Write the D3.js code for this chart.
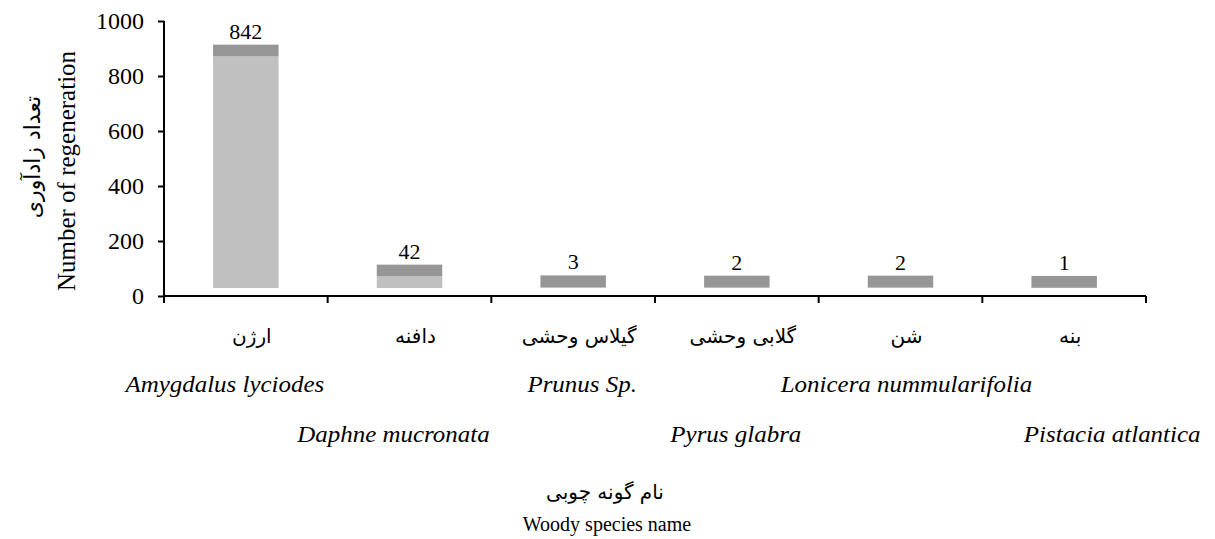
<!DOCTYPE html>
<html>
<head>
<meta charset="utf-8">
<script src="https://cdn.jsdelivr.net/npm/d3@7"></script>
<style>
  body { margin: 0; background: #fff; }
  text { font-family: "Liberation Serif", "Times New Roman", serif; fill: #000; }
  .fa { font-family: "DejaVu Sans", sans-serif; }
</style>
</head>
<body>
<div id="chart"></div>
<script>
// Datos del grafico
var nombresFa = ["ارژن", "دافنه", "گیلاس وحشی", "گلابی وحشی", "شن", "بنه"];
var nombresLat = ["Amygdalus lyciodes", "Daphne mucronata", "Prunus Sp.", "Pyrus glabra", "Lonicera nummularifolia", "Pistacia atlantica"];
var valores = [842, 42, 3, 2, 2, 1];
var ticksY = [0, 200, 400, 600, 800, 1000];

// Ajustes de posicion de las etiquetas latinas (desplazamiento horizontal)
var desplazaLat = [-21, -16, 9, -1, 6, 48];

var width = 1215, height = 539;
var margin = {top: 21, left: 164, right: 69, bottom: 243};

var svg = d3.select("#chart").append("svg")
    .attr("width", width)
    .attr("height", height);

var x = d3.scaleBand()
    .domain(d3.range(valores.length))
    .range([margin.left, width - margin.right])
    .paddingInner(0.6)
    .paddingOuter(0.3);

var y = d3.scaleLinear()
    .domain([0, 1000])
    .range([height - margin.bottom, margin.top]);

// base del suelo 3D y grosor de la tapa
var base = 29, tapa = 43;

// Barras (parte clara = valor)
svg.selectAll(".clara")
    .data(valores)
    .enter().append("rect")
    .attr("class", "clara")
    .attr("x", function(d, i) { return x(i); })
    .attr("width", x.bandwidth())
    .attr("y", function(d) { return y(base + d); })
    .attr("height", function(d) { return y(base) - y(base + d); })
    .attr("fill", "#c0c0c0");

// Tapa oscura
svg.selectAll(".tapa")
    .data(valores)
    .enter().append("rect")
    .attr("class", "tapa")
    .attr("x", function(d, i) { return x(i); })
    .attr("width", x.bandwidth())
    .attr("y", function(d) { return y(base + d + tapa); })
    .attr("height", function(d) { return y(base + d) - y(base + d + tapa); })
    .attr("fill", "#969696");

// Etiquetas de valor
svg.selectAll(".valor")
    .data(valores)
    .enter().append("text")
    .attr("class", "valor")
    .attr("x", function(d, i) { return x(i) + x.bandwidth() / 2; })
    .attr("y", function(d) { return y(base + d + tapa) - 6; })
    .attr("text-anchor", "middle")
    .style("font-size", "22px")
    .text(function(d) { return d; });

// Eje Y
var ejeY = svg.append("g")
    .attr("transform", "translate(" + margin.left + ",0)")
    .call(d3.axisLeft(y).tickValues(ticksY).tickFormat(d3.format("d")).tickSize(6).tickPadding(14));
ejeY.selectAll("text").style("font-size", "24px").attr("font-family", null);
ejeY.select(".domain").attr("stroke-width", 2).attr("d", "M0," + y(0) + "V" + y(1000));
ejeY.selectAll(".tick line").attr("stroke-width", 2);

// Eje X (lineas de separacion entre categorias)
var ejeX = svg.append("g").attr("class", "ejeX");
ejeX.append("line")
    .attr("x1", margin.left).attr("x2", width - margin.right)
    .attr("y1", y(0)).attr("y2", y(0))
    .attr("stroke", "#000").attr("stroke-width", 2);
var limites = d3.range(valores.length + 1).map(function(i) {
    return margin.left + i * x.step();
});
ejeX.selectAll(".sep")
    .data(limites)
    .enter().append("line")
    .attr("x1", function(d) { return d; }).attr("x2", function(d) { return d; })
    .attr("y1", y(0)).attr("y2", y(0) + 7)
    .attr("stroke", "#000").attr("stroke-width", 2);

// Etiquetas de categoria en persa
svg.selectAll(".fa-cat")
    .data(nombresFa)
    .enter().append("text")
    .attr("class", "fa")
    .attr("x", function(d, i) { return x(i) + x.bandwidth() / 2 + 6; })
    .attr("y", 343)
    .attr("text-anchor", "middle")
    .attr("direction", "rtl")
    .style("font-size", "20px")
    .text(function(d) { return d; });

// Etiquetas latinas escalonadas (texto algo ensanchado como en el original)
svg.selectAll(".lat-cat")
    .data(nombresLat)
    .enter().append("text")
    .attr("transform", function(d, i) {
        var px = x(i) + x.bandwidth() / 2 + desplazaLat[i];
        var py = i % 2 === 0 ? 392 : 442;
        return "translate(" + px + "," + py + ") scale(1.04,1)";
    })
    .attr("text-anchor", "middle")
    .style("font-size", "24px")
    .style("font-style", "italic")
    .text(function(d) { return d; });

// Titulos de eje
svg.append("text")
    .attr("class", "fa")
    .attr("x", 605).attr("y", 499)
    .attr("text-anchor", "middle")
    .attr("direction", "rtl")
    .style("font-size", "20px")
    .text("نام گونه چوبی");

svg.append("text")
    .attr("x", 607).attr("y", 531)
    .attr("text-anchor", "middle")
    .style("font-size", "20px")
    .text("Woody species name");

svg.append("text")
    .attr("transform", "translate(75,171) rotate(-90)")
    .attr("text-anchor", "middle")
    .style("font-size", "25px")
    .text("Number of regeneration");

svg.append("text")
    .attr("class", "fa")
    .attr("transform", "translate(40,157) rotate(-90)")
    .attr("text-anchor", "middle")
    .attr("direction", "rtl")
    .style("font-size", "22px")
    .text("تعداد زادآوری");
</script>
</body>
</html>
